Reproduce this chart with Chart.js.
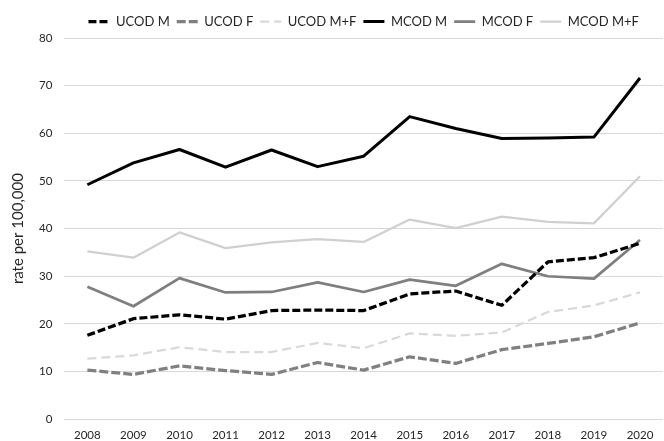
<!DOCTYPE html>
<html>
<head>
<meta charset="utf-8">
<script src="https://cdn.jsdelivr.net/npm/chart.js@4/dist/chart.umd.min.js"></script>
<style>
  html, body { margin: 0; padding: 0; background: #fff; }
  #wrap { width: 664px; height: 441px; position: relative; }
</style>
</head>
<body>
<div id="wrap"><canvas id="c"></canvas></div>
<script>
const years = ['2008','2009','2010','2011','2012','2013','2014','2015','2016','2017','2018','2019','2020'];
const ucodM  = [17.6, 21.1, 21.9, 21.0, 22.8, 22.9, 22.8, 26.3, 26.9, 23.9, 33.0, 33.9, 36.9];
const ucodF  = [10.3, 9.4, 11.2, 10.2, 9.4, 11.9, 10.3, 13.1, 11.7, 14.6, 15.9, 17.3, 20.2];
const ucodMF = [12.7, 13.4, 15.1, 14.1, 14.1, 16.0, 14.9, 18.0, 17.5, 18.2, 22.5, 23.9, 26.6];
const mcodM  = [49.2, 53.8, 56.6, 52.9, 56.5, 53.0, 55.2, 63.5, 61.0, 58.9, 59.0, 59.2, 71.6];
const mcodF  = [27.8, 23.7, 29.6, 26.6, 26.7, 28.7, 26.7, 29.3, 28.0, 32.6, 30.0, 29.5, 37.6];
const mcodMF = [35.2, 33.9, 39.2, 35.9, 37.1, 37.8, 37.2, 41.9, 40.1, 42.5, 41.4, 41.1, 51.0];
const yTicks = [0, 10, 20, 30, 40, 50, 60, 70, 80];

function ds(label, data, color, width, dash) {
  return {
    label, data,
    borderColor: color, backgroundColor: color,
    borderWidth: width, borderDash: dash,
    borderCapStyle: 'butt', borderJoinStyle: 'round',
    pointRadius: 0, pointHoverRadius: 0, pointStyle: 'line',
    tension: 0, fill: false
  };
}

new Chart(document.getElementById('c'), {
  type: 'line',
  data: {
    labels: years,
    datasets: [
      ds('UCOD M', ucodM, '#000000', 3.25, [8, 3]),
      ds('UCOD F', ucodF, '#808080', 3.25, [9, 3]),
      ds('UCOD M+F', ucodMF, '#d9d9d9', 2.25, [9, 5]),
      ds('MCOD M', mcodM, '#000000', 3, []),
      ds('MCOD F', mcodF, '#7f7f7f', 2.75, []),
      ds('MCOD M+F', mcodMF, '#d0d0d0', 2.25, [])
    ]
  },
  options: {
    responsive: true,
    maintainAspectRatio: false,
    animation: false,
    layout: { padding: { left: 9, right: 1, top: 8, bottom: -10 } },
    plugins: {
      tooltip: { enabled: false },
      legend: {
        position: 'top',
        fullSize: false,
        labels: {
          usePointStyle: true,
          pointStyle: 'line',
          pointStyleWidth: 21,
          padding: 7,
          color: '#262626',
          font: { family: 'Lato', size: 13 },
          generateLabels: (chart) => {
            const items = Chart.defaults.plugins.legend.labels.generateLabels(chart);
            items.forEach((it) => {
              const d = chart.data.datasets[it.datasetIndex];
              it.lineDash = d.borderDash;
              it.lineWidth = d.borderWidth;
              it.strokeStyle = d.borderColor;
              it.fillStyle = d.borderColor;
              it.pointStyle = 'line';
            });
            return items;
          }
        }
      }
    },
    scales: {
      x: {
        offset: true,
        grid: { display: false, drawTicks: false },
        border: { display: false },
        ticks: { color: '#262626', font: { family: 'Lato', size: 11.5 }, padding: 9, maxRotation: 0 }
      },
      y: {
        min: 0, max: 80,
        afterBuildTicks: (axis) => { axis.ticks = yTicks.map(v => ({ value: v })); },
        grid: { color: '#d9d9d9', lineWidth: 1, drawTicks: false },
        border: { display: false },
        ticks: { color: '#262626', font: { family: 'Lato', size: 11.5 }, padding: 12 },
        title: { display: true, text: 'rate per 100,000', color: '#262626', font: { family: 'Lato', size: 15 }, padding: { top: 0, bottom: 0 } }
      }
    }
  }
});
</script>
</body>
</html>
